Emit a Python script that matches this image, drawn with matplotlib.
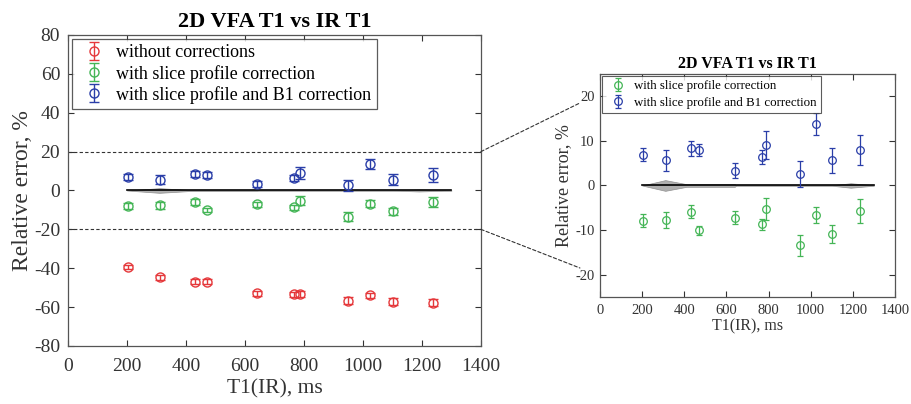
import numpy as np
import matplotlib
matplotlib.use("Agg")
import matplotlib.pyplot as plt
from matplotlib.patches import ConnectionPatch

plt.rcParams['font.family'] = ['Liberation Serif', 'DejaVu Serif']
plt.rcParams['axes.unicode_minus'] = False

# T1 from inversion recovery (ms), one value per phantom tube
t1_ir = [202, 313, 432, 470, 640, 767, 787, 949, 1023, 1102, 1236]

# relative error of VFA T1 vs IR T1 (%), with error bars
err_none = [-39.3, -44.7, -46.9, -46.9, -52.9, -53.4, -53.1, -56.8, -53.9, -57.3, -57.8]
sd_none = [1.2, 1.3, 1.2, 1.2, 1.3, 1.3, 1.5, 1.8, 1.3, 1.8, 1.8]

err_slice = [-7.9, -7.7, -5.9, -10.0, -7.2, -8.7, -5.3, -13.4, -6.7, -10.8, -5.8]
sd_slice = [1.4, 1.8, 1.5, 1.0, 1.4, 1.2, 2.4, 2.3, 1.8, 2.0, 2.7]

err_b1 = [6.9, 5.6, 8.3, 8.0, 3.3, 6.4, 9.1, 2.6, 13.8, 5.6, 8.0]
sd_b1 = [1.5, 2.3, 1.6, 1.4, 1.7, 1.6, 3.1, 2.9, 2.5, 2.9, 3.4]

# reference line at zero with IR uncertainty band
band_x = [200, 310, 410, 640, 645, 1100, 1190, 1300]
band_hw = [0.0, 1.2, 0.3, 0.3, 0.05, 0.05, 0.5, 0.05]

labels = ["without corrections", "with slice profile correction",
          "with slice profile and B1 correction"]
c_red = "#e5383b"
c_green = "#44b556"
c_blue = "#2a3ea8"
axis_col = "#333333"


def style_axes(ax, fs, xpad, ypad):
    ax.tick_params(direction="in", top=True, right=True, labelsize=fs,
                   colors=axis_col, length=4, width=0.8)
    ax.tick_params(axis="x", pad=xpad)
    ax.tick_params(axis="y", pad=ypad)
    for s in ax.spines.values():
        s.set_color("#555555")
        s.set_linewidth(0.9)


def draw_zero(ax):
    lo = [-h for h in band_hw]
    ax.fill_between(band_x, lo, band_hw, color="#b0b0b0", lw=0.5, edgecolor="#909090", zorder=1)
    ax.plot([200, 1300], [0, 0], color="black", lw=1.2, zorder=2)


fig = plt.figure(figsize=(9.11, 4.04), dpi=100)

# full range panel
ax1 = fig.add_axes([0.0746, 0.1436, 0.4533, 0.7698])
draw_zero(ax1)
ax1.axhline(20, color="#333333", ls=(0, (3, 2)), lw=0.8)
ax1.axhline(-20, color="#333333", ls=(0, (3, 2)), lw=0.8)
kw1 = dict(fmt="o", mfc="none", ms=6.5, mew=1.0, capsize=3.5, elinewidth=1.0, capthick=1.0)
h1 = ax1.errorbar(t1_ir, err_none, yerr=sd_none, color=c_red, **kw1)
h2 = ax1.errorbar(t1_ir, err_slice, yerr=sd_slice, color=c_green, **kw1)
h3 = ax1.errorbar(t1_ir, err_b1, yerr=sd_b1, color=c_blue, **kw1)
ax1.set_xlim(0, 1400)
ax1.set_ylim(-80, 80)
ax1.set_xticks(range(0, 1401, 200))
ax1.set_yticks(range(-80, 81, 20))
style_axes(ax1, 14, 9, 5.6)
ax1.set_title("2D VFA T1 vs IR T1", fontsize=16, fontweight="bold", pad=6)
ax1.set_xlabel("T1(IR), ms", fontsize=15.5, color=axis_col, labelpad=3)
ax1.set_ylabel("Relative error, %", fontsize=17, color=axis_col, labelpad=1)
leg1 = ax1.legend([h1, h2, h3], labels, loc="upper left", fontsize=13,
                  frameon=True, fancybox=False, borderaxespad=0.22,
                  handlelength=1.8, handletextpad=0.35, labelspacing=0.18,
                  borderpad=0.3)
leg1.get_frame().set_edgecolor("#333333")
leg1.get_frame().set_linewidth(0.9)

# zoomed panel, corrected series only
ax2 = fig.add_axes([0.6586, 0.2649, 0.3238, 0.5520])
draw_zero(ax2)
kw2 = dict(fmt="o", mfc="none", ms=5.5, mew=0.9, capsize=2.5, elinewidth=0.9, capthick=0.9)
g2 = ax2.errorbar(t1_ir, err_slice, yerr=sd_slice, color=c_green, **kw2)
g3 = ax2.errorbar(t1_ir, err_b1, yerr=sd_b1, color=c_blue, **kw2)
ax2.set_xlim(0, 1400)
ax2.set_ylim(-25, 25)
ax2.set_xticks(range(0, 1401, 200))
ax2.set_yticks(range(-20, 21, 10))
style_axes(ax2, 10.5, 5, 4)
ax2.set_title("2D VFA T1 vs IR T1", fontsize=11.5, fontweight="bold", pad=4)
ax2.set_xlabel("T1(IR), ms", fontsize=11.5, color=axis_col, labelpad=1)
ax2.set_ylabel("Relative error, %", fontsize=13, color=axis_col, labelpad=2)
leg2 = ax2.legend([g2, g3], labels[1:], loc="upper left", fontsize=9.3,
                  frameon=True, fancybox=False, borderaxespad=0.12,
                  handlelength=1.85, handletextpad=0.3, labelspacing=0.35,
                  borderpad=0.35)
leg2.get_frame().set_edgecolor("#333333")
leg2.get_frame().set_linewidth(0.8)

# dashed connectors from the +/-20 band to the zoomed panel
for yv, yf in [(20, 0.87), (-20, 0.13)]:
    con = ConnectionPatch(xyA=(1400, yv), coordsA=ax1.transData,
                          xyB=(-0.068, yf), coordsB=ax2.transAxes,
                          color="#333333", ls=(0, (3, 2)), lw=0.8)
    fig.add_artist(con)

fig.savefig("out.png", dpi=100)
